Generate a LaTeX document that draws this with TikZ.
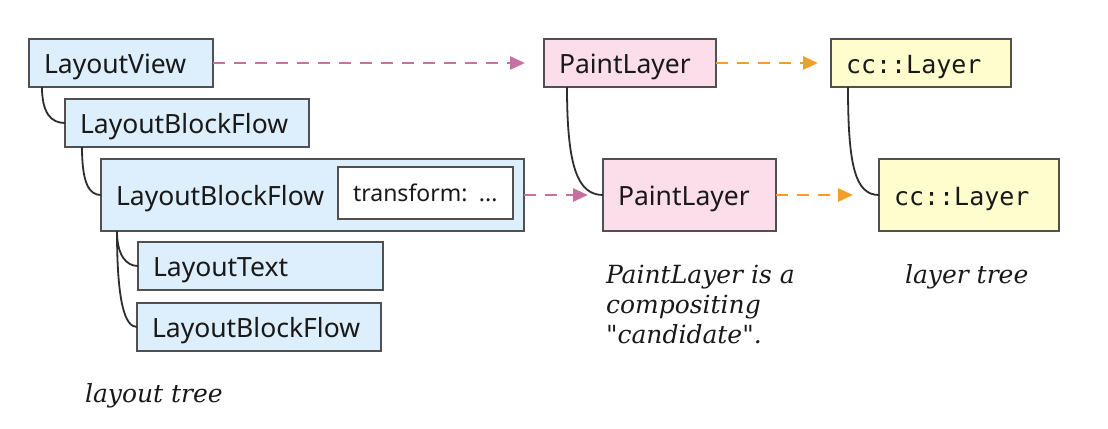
\documentclass[tikz,border=0pt]{standalone}
\usepackage{fontspec}
\setmainfont{DejaVu Serif}
\newfontfamily\boxsans{Noto Sans}
\newfontfamily\boxmono{DejaVu Sans Mono}
\newfontfamily\noteserif{DejaVu Serif}
\usetikzlibrary{arrows.meta}
\definecolor{bluefill}{RGB}{221,238,252}
\definecolor{pinkfill}{RGB}{252,221,234}
\definecolor{yellowfill}{RGB}{255,253,206}
\definecolor{boxline}{RGB}{80,80,80}
\definecolor{treeline}{RGB}{45,45,45}
\definecolor{pinkline}{RGB}{200,112,160}
\definecolor{orangeline}{RGB}{240,160,40}
\definecolor{textcol}{RGB}{25,25,25}
\begin{document}
\begin{tikzpicture}[x=1bp,y=-1bp,
  box/.style={draw=boxline, line width=1.3bp, anchor=north west, inner xsep=15bp,
    inner ysep=0pt, outer sep=0pt, align=left, text=textcol,
    text height=20bp, text depth=0pt,
    font=\boxsans\fontsize{26.5bp}{30bp}\selectfont},
  lbox/.style={box, fill=bluefill},
  pbox/.style={box, fill=pinkfill},
  ybox/.style={box, fill=yellowfill, font=\boxmono\fontsize{25bp}{30bp}\selectfont},
  tree/.style={draw=treeline, line width=1.8bp},
  pinkarrow/.style={draw=pinkline, line width=2.8bp, dash pattern=on 12bp off 9bp,
    -{Triangle[length=15bp,width=13bp]}},
  orangearrow/.style={draw=orangeline, line width=2.8bp, dash pattern=on 12bp off 9bp,
    -{Triangle[length=15bp,width=13bp]}},
  note/.style={inner sep=0pt, outer sep=0pt, align=left, text=textcol,
    font=\noteserif\itshape\fontsize{25bp}{30bp}\selectfont}
]
\useasboundingbox (0,0) rectangle (1108,428);

% layout tree
\node[lbox, text width=154bp, minimum height=48bp] (lv) at (29,39) {LayoutView};
\node[lbox, text width=214bp, minimum height=48bp] (lbf1) at (65,99) {LayoutBlockFlow};
\node[lbox, text width=393bp, minimum height=72bp] (lbf2) at (101,159) {LayoutBlockFlow};
\node[box, fill=white, text width=145bp, minimum height=52bp, text height=17bp,
  font=\boxsans\fontsize{23bp}{28bp}\selectfont] (tf) at (338,167) {transform: ...};
\node[lbox, text width=215bp, minimum height=48bp] (lt) at (138,242) {LayoutText};
\node[lbox, text width=214bp, minimum height=48bp] (lbf3) at (137,303) {LayoutBlockFlow};

% paint layers
\node[pbox, text width=142bp, minimum height=48bp] (pl1) at (544,39) {PaintLayer};
\node[pbox, text width=143bp, minimum height=72bp] (pl2) at (603,159) {PaintLayer};

% cc layers
\node[ybox, text width=150bp, minimum height=48bp] (cc1) at (831,39) {cc::Layer};
\node[ybox, text width=150bp, minimum height=72bp] (cc2) at (879,159) {cc::Layer};

% tree connectors
\draw[tree] ([xshift=13bp]lv.south west) .. controls +(0,26) and +(-14,0) .. (lbf1.west);
\draw[tree] ([xshift=17bp]lbf1.south west) .. controls +(0,36) and +(-12,0) .. (lbf2.west);
\draw[tree] ([xshift=16bp]lbf2.south west) .. controls +(0,24) and +(-12,0) .. (lt.west);
\draw[tree] ([xshift=16bp]lbf2.south west) .. controls +(0,72) and +(-12,0) .. (lbf3.west);
\draw[tree] ([xshift=23bp]pl1.south west) .. controls +(0,78) and +(-26,0) .. (pl2.west);
\draw[tree] ([xshift=17bp]cc1.south west) .. controls +(0,78) and +(-24,0) .. (cc2.west);

% mapping arrows
\draw[pinkarrow, shorten >=19bp] (lv.east) -- (pl1.west);
\draw[pinkarrow, shorten >=15bp] (lbf2.east) -- (pl2.west);
\draw[orangearrow, shorten >=13bp] (pl1.east) -- (cc1.west);
\draw[orangearrow, shorten >=26bp] (pl2.east) -- (cc2.west);

% captions
\node[note, anchor=north west] (cand) at (606,265) {PaintLayer is a\\compositing\\"candidate".};
\node[note, anchor=base west] (ltree) at (905,283) {layer tree};
\node[note, anchor=base west] (lotree) at (85,402) {layout tree};
\end{tikzpicture}
\end{document}
